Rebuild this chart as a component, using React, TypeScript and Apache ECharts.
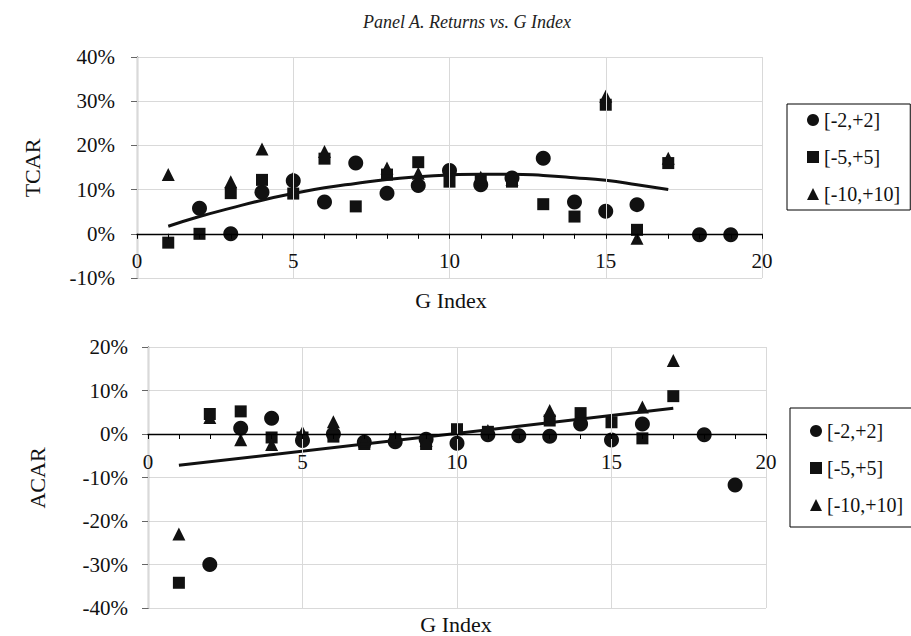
import React, { useEffect, useRef } from "react";
import * as echarts from "echarts";

// G Index categories (x values)
const gIndex = [1, 2, 3, 4, 5, 6, 7, 8, 9, 10, 11, 12, 13, 14, 15, 16, 17, 18, 19];

// Panel top: TCAR (%) by event window
const tcar2 = [null, 5.8, 0.0, 9.4, 12.0, 7.2, 16.0, 9.2, 10.9, 14.3, 11.1, 12.6, 17.1, 7.2, 5.1, 6.6, null, -0.2, -0.2];
const tcar5 = [-2.0, 0.0, 9.2, 12.2, 9.1, 17.0, 6.2, 13.4, 16.2, 11.8, 12.3, 11.8, 6.7, 3.9, 29.2, 0.9, 16.0, null, null];
const tcar10 = [13.4, null, 11.8, 19.2, 12.6, 18.6, null, 14.9, 13.7, null, 12.8, 12.3, null, null, 31.1, -1.0, 17.1, null, null];

// Trend curve
const tcarTrendX = [1, 2, 3, 4, 5, 6, 7, 8, 9, 10, 11, 12, 13, 14, 15, 16, 17];
const tcarTrend = [1.7, 3.9, 5.8, 7.6, 9.1, 10.4, 11.4, 12.3, 12.9, 13.3, 13.5, 13.5, 13.2, 12.7, 12.1, 11.1, 10.0];

// Panel bottom: ACAR (%) by event window
const acar2 = [null, -30.0, 1.3, 3.6, -1.5, 0.0, -1.9, -1.8, -1.2, -2.1, -0.2, -0.4, -0.5, 2.3, -1.4, 2.3, null, -0.2, -11.7];
const acar5 = [-34.2, 4.6, 5.2, -0.8, -0.8, -0.6, -2.3, -1.2, -2.3, 1.1, 0.5, null, 3.1, 4.8, 2.7, -1.0, 8.7, null, null];
const acar10 = [-23.0, 3.8, -1.3, -2.4, 0.4, 2.8, -1.6, -0.7, -1.5, null, 0.8, null, 5.4, null, null, 6.2, 16.9, null, null];

// Trend line
const acarTrendX = [1, 17];
const acarTrend = [-7.2, 5.9];

const windowNames = ["[-2,+2]", "[-5,+5]", "[-10,+10]"];
const symbols = ["circle", "rect", "triangle"];
const symbolSizes = [15, 12, 13];

const xTicks = { min: 0, max: 20, interval: 5 };
const topY = { min: -10, max: 40, interval: 10 };
const botY = { min: -40, max: 20, interval: 10 };

const FONT = "Liberation Serif";
const INK = "#111";

function pairs(xs: number[], ys: (number | null)[]) {
  const out: number[][] = [];
  xs.forEach((x, i) => {
    const y = ys[i];
    if (y !== null && y !== undefined) out.push([x, y]);
  });
  return out;
}

function makeXAxis(gridIndex: number, offset: number) {
  return {
    gridIndex,
    type: "value",
    min: xTicks.min,
    max: xTicks.max,
    interval: xTicks.interval,
    position: "bottom",
    offset,
    axisLine: { show: true, onZero: false, lineStyle: { color: "#000", width: 1.3 } },
    axisTick: { show: true, length: 5, lineStyle: { color: "#000", width: 1 } },
    minorTick: { show: true, splitNumber: 5, length: 5, lineStyle: { color: "#000", width: 1 } },
    axisLabel: { fontSize: 21, fontFamily: FONT, color: INK, margin: 17 },
    splitLine: { show: true, lineStyle: { color: "#d9d9d9", width: 1 } },
    z: 5,
  };
}

function makeYAxis(gridIndex: number, r: { min: number; max: number; interval: number }, margin: number) {
  return {
    gridIndex,
    type: "value",
    min: r.min,
    max: r.max,
    interval: r.interval,
    axisLine: { show: true, onZero: false, lineStyle: { color: "#666", width: 1.3 } },
    axisTick: { show: true, length: 6, lineStyle: { color: "#666", width: 1 } },
    axisLabel: {
      fontSize: 21,
      fontFamily: FONT,
      color: INK,
      margin,
      formatter: (v: number) => `${Math.round(v)}%`,
    },
    splitLine: { show: true, lineStyle: { color: "#d9d9d9", width: 1 } },
  };
}

function scatterSeries(gridIndex: number, data: (number | null)[][]) {
  return data.map((ys, k) => ({
    type: "scatter",
    name: windowNames[k],
    xAxisIndex: gridIndex,
    yAxisIndex: gridIndex,
    symbol: symbols[k],
    symbolSize: symbolSizes[k],
    itemStyle: { color: INK, opacity: 1 },
    data: pairs(gIndex, ys),
    z: 3,
  }));
}

function makeLegend(left: number, top: number, padding: number[]) {
  return {
    orient: "vertical",
    left,
    top,
    padding,
    itemGap: 17,
    itemWidth: 12,
    itemHeight: 12,
    borderColor: "#000",
    borderWidth: 1,
    selectedMode: false,
    textStyle: { fontSize: 20, fontFamily: FONT, color: INK },
    data: windowNames.map((n, k) => ({ name: n, icon: symbols[k] })),
  };
}

function label(text: string, x: number, y: number, size: number, extra: any = {}) {
  return {
    type: "text",
    x,
    y,
    rotation: extra.rotation || 0,
    style: {
      text,
      fontSize: size,
      fontFamily: FONT,
      fontStyle: extra.italic ? "italic" : "normal",
      fill: extra.fill || INK,
      textAlign: "center",
      textVerticalAlign: "middle",
    },
  };
}

export default function App() {
  const ref = useRef<HTMLDivElement>(null);

  useEffect(() => {
    if (!ref.current) return;
    const chart = echarts.init(ref.current, undefined, { renderer: "svg" });
    const gridTop = { left: 137, top: 57, width: 625, height: 221 };
    const gridBot = { left: 148, top: 347, width: 618, height: 261 };
    // offsets that bring the x axes (line, ticks, labels) up to the 0% level
    const offTop = -(gridTop.height * (0 - topY.min)) / (topY.max - topY.min);
    const offBot = -(gridBot.height * (0 - botY.min)) / (botY.max - botY.min);
    const option = {
      animation: false,
      backgroundColor: "#fff",
      textStyle: { fontFamily: FONT },
      grid: [gridTop, gridBot],
      xAxis: [makeXAxis(0, offTop), makeXAxis(1, offBot)],
      yAxis: [makeYAxis(0, topY, 22), makeYAxis(1, botY, 20)],
      legend: [makeLegend(787, 104, [6, 10, 6, 20]), makeLegend(790, 408, [13, 10, 12, 20])],
      series: [
        ...scatterSeries(0, [tcar2, tcar5, tcar10]),
        {
          type: "line",
          name: "TCAR trend",
          xAxisIndex: 0,
          yAxisIndex: 0,
          smooth: true,
          showSymbol: false,
          lineStyle: { color: "#111", width: 3 },
          data: pairs(tcarTrendX, tcarTrend),
          z: 4,
        },
        ...scatterSeries(1, [acar2, acar5, acar10]),
        {
          type: "line",
          name: "ACAR trend",
          xAxisIndex: 1,
          yAxisIndex: 1,
          showSymbol: false,
          lineStyle: { color: "#111", width: 3 },
          data: pairs(acarTrendX, acarTrend),
          z: 4,
        },
      ],
      graphic: [
        label("Panel A. Returns vs. G Index", 467, 22, 18, { italic: true, fill: "#222" }),
        label("TCAR", 32, 168, 22, { rotation: Math.PI / 2 }),
        label("ACAR", 37, 478, 22, { rotation: Math.PI / 2 }),
        label("G Index", 451, 300, 22),
        label("G Index", 456, 624, 22),
      ],
    };
    chart.setOption(option as any);
    return () => chart.dispose();
  }, []);

  return (
    <div
      ref={ref}
      style={{ position: "absolute", left: 0, top: 0, width: 911, height: 636 }}
    />
  );
}
